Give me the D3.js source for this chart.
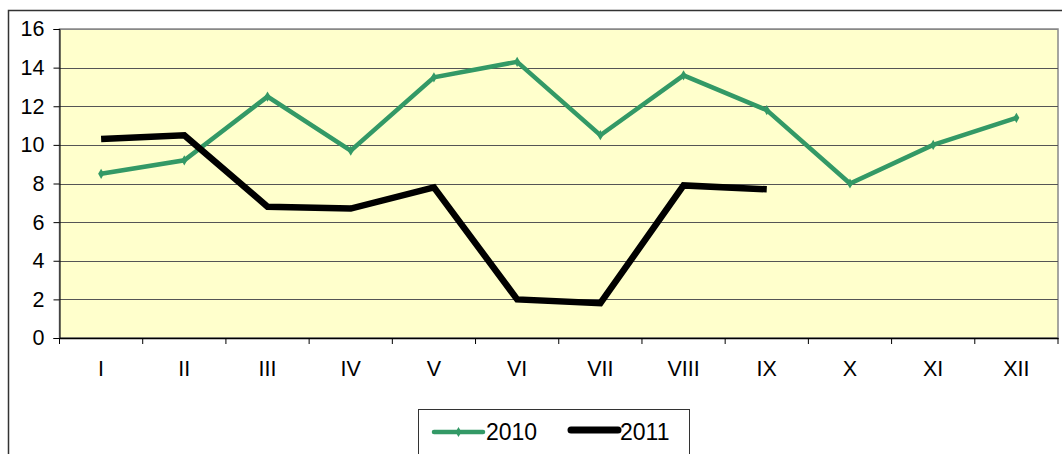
<!DOCTYPE html>
<html>
<head>
<meta charset=utf-8>
<style>
body {margin: 0; background: #fff;}
svg {display: block; font-family: Arial, 'Liberation Sans', sans-serif;}
.axis path, .axis line {stroke: #000;}
</style>
</head>
<body>
<svg id=chart width=1062 height=454></svg>
<script src='https://cdn.jsdelivr.net/npm/d3@7'></script>
<script>
//data
var months = ['I','II','III','IV','V','VI','VII','VIII','IX','X','XI','XII'];
var values2010 = [8.5, 9.2, 12.5, 9.7, 13.5, 14.3, 10.5, 13.6, 11.8, 8.0, 10.0, 11.4];
var values2011 = [10.3, 10.5, 6.8, 6.7, 7.8, 2.0, 1.8, 7.9, 7.7];
var yTicks = [0, 2, 4, 6, 8, 10, 12, 14, 16];

var svg = d3.select('#chart');

//outer chart border
svg.append('rect')
    .attr('x', 8.5).attr('y', 10.5)
    .attr('width', 1080).attr('height', 470)
    .attr('fill', '#fff')
    .attr('stroke', '#333').attr('stroke-width', 1.5);

var margin = {top: 29, left: 59.5};
var width = 998.5, height = 309;
var g = svg.append('g')
    .attr('transform', 'translate(' + margin.left + ',' + margin.top + ')');

var x = d3.scaleBand().domain(months).range([0, width]);
var y = d3.scaleLinear().domain([0, 16]).range([height, 0]);

//plot background
g.append('rect')
    .attr('width', width).attr('height', height)
    .attr('fill', '#ffffcc')
    .attr('stroke', '#888').attr('stroke-width', 1.5);

//gridlines
g.selectAll('.grid')
  .data(yTicks.filter(function(d){ return d > 0; }))
  .enter().append('line')
    .attr('x1', 0).attr('x2', width)
    .attr('y1', function(d){ return Math.round(y(d)) + 0.5; })
    .attr('y2', function(d){ return Math.round(y(d)) + 0.5; })
    .attr('stroke', function(d){ return d === 16 ? '#888' : '#555'; })
    .attr('stroke-width', 1.2);

//axes
var yAxis = g.append('g')
    .attr('class', 'axis')
    .call(d3.axisLeft(y).tickValues(yTicks).tickSize(6).tickPadding(9));
yAxis.attr('font-size', 21.5).attr('font-family', 'Arial, Liberation Sans, sans-serif');
yAxis.selectAll('text').attr('fill', '#000');

var xAxis = g.append('g')
    .attr('class', 'axis')
    .attr('transform', 'translate(0,' + height + ')')
    .call(d3.axisBottom(x).tickSize(0).tickPadding(23));
xAxis.attr('font-size', 21.5).attr('font-family', 'Arial, Liberation Sans, sans-serif');
xAxis.selectAll('text').attr('fill', '#000');
xAxis.select('.domain').attr('stroke-width', 1.5);

//tick marks between categories
g.selectAll('.xtick')
  .data(months.concat(['end']))
  .enter().append('line')
    .attr('x1', function(d, i){ return i * x.bandwidth(); })
    .attr('x2', function(d, i){ return i * x.bandwidth(); })
    .attr('y1', height).attr('y2', height + 6)
    .attr('stroke', '#000');

var line = d3.line()
    .x(function(d, i){ return x(months[i]) + x.bandwidth() / 2; })
    .y(function(d){ return y(d); });

g.append('path')
    .datum(values2010)
    .attr('d', line)
    .attr('fill', 'none')
    .attr('stroke', '#339966')
    .attr('stroke-width', 4.5)
    .attr('stroke-linejoin', 'miter');

g.selectAll('.m2010')
  .data(values2010)
  .enter().append('path')
    .attr('transform', function(d, i){ return 'translate(' + (x(months[i]) + x.bandwidth() / 2) + ',' + y(d) + ')'; })
    .attr('d', d3.symbol(d3.symbolDiamond, 30))
    .attr('fill', '#339966');

g.append('path')
    .datum(values2011)
    .attr('d', line)
    .attr('fill', 'none')
    .attr('stroke', '#000')
    .attr('stroke-width', 6.5)
    .attr('stroke-linejoin', 'miter');

//legend
var lg = svg.append('g');
lg.append('rect')
    .attr('x', 418.5).attr('y', 409.5)
    .attr('width', 271).attr('height', 60)
    .attr('fill', '#fff')
    .attr('stroke', '#333').attr('stroke-width', 1);
lg.append('line')
    .attr('x1', 434).attr('x2', 483).attr('y1', 432).attr('y2', 432)
    .attr('stroke', '#339966').attr('stroke-width', 4.5).attr('stroke-linecap', 'round');
lg.append('path')
    .attr('transform', 'translate(458.5,432)')
    .attr('d', d3.symbol(d3.symbolDiamond, 30))
    .attr('fill', '#339966');
lg.append('text')
    .attr('x', 486).attr('y', 440)
    .style('font-size', '23px')
    .text('2010');
lg.append('line')
    .attr('x1', 571).attr('x2', 618).attr('y1', 430).attr('y2', 430)
    .attr('stroke', '#000').attr('stroke-width', 7).attr('stroke-linecap', 'round');
lg.append('text')
    .attr('x', 620).attr('y', 440)
    .style('font-size', '23px')
    .text('2011');
</script>
</body>
</html>
